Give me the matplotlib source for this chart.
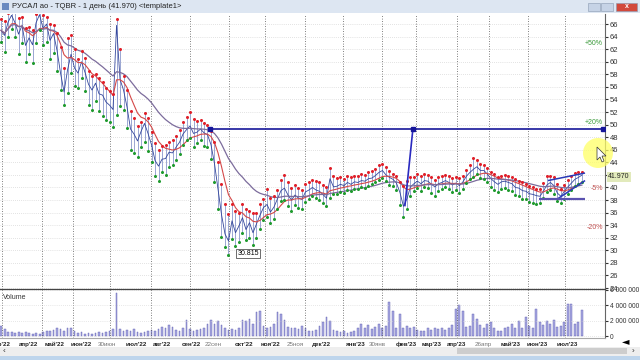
import numpy as np
import pandas as pd
import matplotlib
matplotlib.use("Agg")
import matplotlib.pyplot as plt
import matplotlib.transforms as mtransforms
from matplotlib.patches import Rectangle, Ellipse, Polygon
from matplotlib.ticker import FuncFormatter

plt.rcParams['font.family'] = ['Liberation Sans', 'DejaVu Sans']

# --- data (one bar = ~2 trading days, mar'22 .. jul'23) ---
close = [65.0, 64.2, 66.3, 67.4, 66.2, 64.4, 65.8, 62.6, 63.8, 62.7,
         66.2, 67.5, 65.3, 66.0, 63.4, 64.5, 61.8, 58.2, 55.2, 58.7,
         61.2, 59.0, 58.2, 60.0, 58.3, 56.4, 55.5, 56.6, 54.9, 54.7,
         53.6, 53.1, 52.4, 65.8, 57.2, 55.5, 52.8, 49.3, 48.5, 47.4,
         48.9, 50.2, 48.6, 46.8, 44.3, 43.4, 44.5, 44.6, 45.6, 45.5,
         46.4, 47.2, 48.5, 49.2, 49.8, 48.6, 48.8, 49.3, 48.7, 48.4,
         46.8, 43.8, 39.8, 35.7, 32.6, 31.5, 34.7, 32.8, 33.9, 35.2,
         33.3, 34.4, 32.8, 34.2, 35.6, 36.8, 37.3, 36.1, 36.9, 38.2,
         39.5, 39.9, 38.8, 38.0, 38.8, 38.3, 38.1, 39.3, 39.6, 40.0,
         39.6, 39.4, 38.9, 38.3, 41.4, 40.1, 40.2, 40.5, 40.3, 40.8,
         40.5, 40.9, 40.8, 41.1, 41.0, 41.4, 41.5, 41.9, 42.4, 42.7,
         42.0, 41.6, 41.3, 40.7, 39.2, 37.0, 38.2, 40.1, 40.6, 41.0,
         40.6, 41.1, 41.0, 40.5, 40.1, 40.6, 40.8, 41.1, 40.8, 40.4,
         40.7, 40.3, 40.9, 41.8, 42.4, 42.9, 43.3, 42.7, 42.7, 42.1,
         41.4, 40.9, 40.5, 40.9, 41.0, 40.8, 40.6, 40.0, 39.9, 39.5,
         39.4, 39.0, 38.9, 38.7, 38.6, 39.4, 40.4, 40.8, 40.3, 39.1,
         38.6, 39.4, 40.1, 40.7, 41.3, 41.6, 41.97]

high = [66.8, 66.5, 67.8, 68.5, 68.0, 66.9, 67.2, 65.4, 65.6, 65.0,
        67.6, 68.5, 67.4, 67.2, 66.0, 65.9, 64.5, 62.4, 59.0, 63.8,
        64.2, 62.0, 60.5, 61.7, 60.6, 58.6, 57.8, 58.0, 57.4, 56.8,
        55.9, 55.4, 54.8, 66.8, 62.0, 57.8, 55.5, 52.2, 51.0, 49.8,
        50.4, 51.8, 51.0, 48.9, 47.1, 46.0, 46.6, 46.8, 47.3, 47.6,
        48.2, 49.1, 50.4, 51.2, 52.0, 50.9, 50.5, 50.8, 50.3, 49.9,
        49.0, 47.2, 44.0, 40.6, 37.4, 35.8, 37.3, 36.2, 36.0, 37.4,
        36.6, 36.3, 35.9, 36.0, 37.4, 38.2, 39.7, 38.4, 38.6, 39.6,
        41.2, 42.0, 40.9, 39.9, 40.4, 39.9, 39.6, 40.5, 40.8, 41.2,
        41.0, 40.8, 40.4, 40.0, 43.1, 41.8, 41.5, 41.7, 41.4, 41.8,
        41.6, 41.9, 41.9, 42.1, 42.0, 42.4, 42.6, 42.9, 43.6, 43.7,
        43.2, 42.6, 42.2, 41.8, 40.8, 40.2, 41.0, 41.6, 41.7, 42.2,
        41.9, 42.1, 42.0, 41.6, 41.2, 41.6, 41.9, 42.0, 41.9, 41.5,
        41.7, 41.5, 41.9, 42.8, 43.5, 44.7, 44.4, 43.8, 43.6, 43.1,
        42.5, 42.1, 41.6, 41.9, 42.0, 41.9, 41.6, 41.3, 41.0, 40.8,
        40.5, 40.3, 40.0, 39.8, 39.7, 40.7, 41.8, 41.9, 41.6, 40.6,
        39.8, 40.4, 41.2, 41.9, 42.3, 42.4, 42.5]

low = [63.2, 61.5, 64.0, 65.2, 64.0, 61.2, 63.0, 60.0, 61.2, 59.8,
       63.0, 65.0, 62.6, 63.2, 60.5, 61.4, 58.5, 55.5, 53.2, 55.0,
       58.2, 56.1, 55.8, 57.4, 55.4, 53.2, 52.3, 53.7, 52.1, 51.4,
       50.7, 50.4, 49.6, 51.5, 53.0, 52.3, 49.4, 46.0, 45.5, 44.9,
       46.5, 47.3, 45.8, 44.0, 41.8, 41.1, 42.5, 42.0, 43.3, 43.6,
       44.4, 45.3, 46.7, 47.6, 47.9, 46.4, 47.1, 47.5, 46.6, 46.5,
       44.5, 40.8, 36.5, 32.2, 30.6, 29.3, 31.8, 30.7, 31.4, 32.7,
       31.6, 32.0, 30.9, 31.9, 33.4, 34.9, 35.3, 34.3, 35.0, 36.5,
       37.9, 38.0, 37.0, 36.3, 37.2, 36.8, 36.6, 37.7, 38.2, 38.6,
       38.4, 38.0, 37.5, 37.0, 38.4, 38.9, 39.0, 39.3, 39.1, 39.6,
       39.5, 39.8, 39.7, 40.0, 39.9, 40.3, 40.5, 40.8, 41.2, 41.5,
       41.0, 40.4, 40.2, 39.6, 37.2, 35.3, 36.5, 38.6, 39.4, 39.9,
       39.5, 40.0, 39.9, 39.2, 38.7, 39.4, 39.7, 40.0, 39.7, 39.3,
       39.6, 39.1, 39.8, 40.7, 41.3, 41.7, 42.1, 41.5, 41.4, 40.9,
       40.1, 39.6, 39.3, 39.7, 39.9, 39.6, 39.4, 38.8, 38.6, 38.2,
       38.1, 37.7, 37.6, 37.4, 37.6, 38.4, 39.3, 39.6, 39.0, 37.9,
       37.5, 38.2, 39.0, 39.6, 40.2, 40.5, 40.9]

volume_mln = [1.3, 0.9, 0.5, 0.5, 0.4, 0.5, 0.4, 0.5, 0.4, 0.3,
              0.4, 0.3, 0.5, 0.7, 0.6, 0.8, 1.0, 0.9, 0.6, 1.0,
              1.1, 0.7, 0.4, 0.5, 0.3, 0.4, 0.3, 0.4, 0.5, 0.4,
              0.5, 0.7, 0.9, 5.6, 0.9, 0.7, 0.8, 0.6, 0.9, 0.5,
              0.4, 0.5, 0.6, 0.8, 0.7, 0.9, 1.2, 1.0, 1.4, 1.2,
              0.8, 0.7, 1.1, 2.1, 0.9, 0.7, 0.8, 0.9, 1.0, 1.5,
              2.1, 1.6, 1.9, 1.4, 1.0, 0.8, 0.9, 0.8, 1.0, 2.1,
              2.0, 2.2, 1.5, 3.1, 3.2, 1.3, 1.1, 1.2, 1.6, 3.1,
              2.9, 2.1, 1.2, 1.0, 1.1, 0.9, 1.3, 1.0, 0.7, 0.6,
              0.8, 1.3, 1.8, 2.5, 2.0, 0.8, 0.6, 0.5, 0.7, 0.4,
              0.5, 0.6, 1.0, 1.5, 1.1, 1.4, 0.9, 1.2, 1.5, 1.0,
              1.3, 4.4, 3.2, 1.0, 2.8, 1.1, 1.3, 1.0, 1.2, 0.8,
              0.7, 0.6, 1.0, 0.8, 1.0, 0.9, 1.1, 0.8, 1.0, 1.4,
              3.5, 4.0, 3.3, 1.2, 1.3, 2.9, 2.2, 1.4, 1.1, 1.6,
              1.8, 1.0, 0.6, 0.7, 1.0, 1.2, 1.6, 1.0, 1.9, 1.0,
              2.5, 1.3, 1.1, 3.5, 1.8, 1.4, 2.0, 1.5, 2.1, 1.2,
              1.3, 1.8, 4.1, 4.1, 1.6, 1.8, 3.4]

# x axis labels (bar index where they sit) and grid positions
date_labels = ["мар'22", "апр'22", "май'22", "июн'22", "30июн", "июл'22", "авг'22",
               "сен'22", "22сен", "окт'22", "ноя'22", "25ноя", "дек'22", "янв'23",
               "30янв", "фев'23", "мар'23", "апр'23", "26апр", "май'23", "июн'23", "июл'23"]
date_label_bars = [0, 8, 15.4, 22.8, 30.3, 38.6, 46.0, 54.3, 60.6, 69.4, 77.1, 84,
                   91.7, 101.4, 107.6, 115.7, 123.1, 130.3, 137.7, 145.7, 153.1, 161.7]
grid_bars = [0.3, 11.7, 20.6, 31.1, 42.8, 54, 65.1, 75.4, 86.8, 97.7, 108.8,
             118.6, 130.3, 139.4, 150.6, 161.1]

# drawn objects on the chart: (bar0, price0, bar1, price1)
level_line = (59.7, 49.3, 172.0, 49.3)
steep_line = (115.4, 37.0, 117.7, 49.3)
channel_top = (156.3, 41.1, 166.9, 42.3)
channel_bot = (158.8, 38.1, 166.9, 41.1)
support_line = (153.7, 38.2, 166.9, 38.2)
pct_levels = [50, 20, -5, -20]
min_label = "30.815"
title = "РУСАЛ ао - TQBR - 1 день (41.970) <template1>"

# --- figure ---
W, H = 640, 360
fig = plt.figure(figsize=(6.4, 3.6), dpi=100)
fig.patch.set_facecolor('white')


def box(x0, y0, x1, y1):
    return [x0 / W, 1 - y1 / H, (x1 - x0) / W, (y1 - y0) / H]


ax = fig.add_axes(box(0, 14, 605, 289))
axv = fig.add_axes(box(0, 289, 605, 338), sharex=ax)

x = np.arange(len(close))
ax.set_xlim(-0.3, 172.6)
ax.set_ylim(23.85, 67.6)

last = close[-1]

ax.set_xticks(grid_bars)
ax.tick_params(axis='x', length=0, labelbottom=False)
ax.grid(axis='x', color='#555555', ls=(0, (1, 2)), lw=0.6)
ax.yaxis.tick_right()
ax.set_yticks(np.arange(24, 67, 2))
# the label under the last-price box stays hidden
ax.yaxis.set_major_formatter(FuncFormatter(
    lambda v, _: '' if abs(v - last) < 1 else f"{v:.0f}"))
ax.tick_params(axis='y', labelsize=5.5, length=2, pad=1.5, colors='#333333')
ax.grid(axis='y', color='#c8c8c8', ls=(0, (1, 2)), lw=0.5)
for s in ['left', 'bottom', 'top']:
    ax.spines[s].set_visible(False)
ax.spines['right'].set_color('#666666')

# bars + close
ax.vlines(x, low, high, color='#9aa6d2', lw=0.7, zorder=2)
ax.plot(x, close, color='#34479c', lw=0.6, zorder=3)
ma_fast = pd.Series(close).ewm(span=8).mean()
ma_slow = pd.Series(close).ewm(span=24).mean()
ax.plot(x, ma_fast, color='#d44848', lw=0.8, zorder=3)
ax.plot(x, ma_slow, color='#7c6c9c', lw=0.9, zorder=3)
ax.plot(x, high, 'o', ms=2.2, color='#e0202a', mec='none', zorder=4)
ax.plot(x, low, 'o', ms=2.2, color='#1f9a2e', mec='none', zorder=4)

# drawn lines
for ln, c, lw in [(level_line, '#16169a', 1.2), (steep_line, '#2a2ac0', 1.2),
                  (channel_top, '#2a3ab8', 1.1), (channel_bot, '#2a3ab8', 1.1),
                  (support_line, '#5a52b0', 1.6)]:
    ax.plot([ln[0], ln[2]], [ln[1], ln[3]], color=c, lw=lw, zorder=5, solid_capstyle='butt')
ax.plot([level_line[0], steep_line[2], level_line[2]], [level_line[1]] * 3, 's',
        ms=2.2, color='#16169a', zorder=6)

for p in pct_levels:
    ax.text(172.0, last * (1 + p / 100), f"{p:+d}%", ha='right', va='center', fontsize=5,
            color='#3a9a3a' if p > 0 else '#c05050', zorder=6)

imin = int(np.argmin(low))
ax.text(imin + 2.5, 29.5, min_label, fontsize=5, va='center', ha='left', zorder=6,
        bbox=dict(facecolor='white', edgecolor='#333333', lw=0.5, pad=0.8))

# volume panel
axv.bar(x, np.array(volume_mln) * 1e6, width=0.55, color='#a8a8e2', edgecolor='#6060b0', lw=0.3)
axv.set_ylim(-0.25e6, 6.1e6)
axv.yaxis.tick_right()
axv.set_yticks([0, 2e6, 4e6, 6e6])
axv.yaxis.set_major_formatter(FuncFormatter(lambda v, _: f"{int(v):,}".replace(',', ' ')))
axv.tick_params(axis='y', labelsize=4.8, length=2, pad=1.5, colors='#333333')
axv.tick_params(axis='x', length=0, labelbottom=False)
axv.grid(axis='x', color='#555555', ls=(0, (1, 2)), lw=0.6)
axv.grid(axis='y', color='#d0d0d0', ls=(0, (1, 2)), lw=0.5)
axv.spines['left'].set_visible(False)
axv.spines['top'].set_color('#444444')
axv.spines['top'].set_linewidth(0.9)
axv.spines['right'].set_color('#666666')
axv.spines['bottom'].set_color('#aaaaaa')
axv.text(0.005, 0.9, "Volume", transform=axv.transAxes, fontsize=5, va='top', color='#333333')

trans = mtransforms.blended_transform_factory(axv.transData, axv.transAxes)
for b, lab in zip(date_label_bars, date_labels):
    is_day = lab[0].isdigit()
    axv.text(b, -0.08, lab, transform=trans, ha='center', va='top', fontsize=4.5,
             fontweight='normal' if is_day else 'bold',
             color='#777777' if is_day else '#222222', clip_on=False)

# window chrome
fig.add_artist(Rectangle((0, 1 - 13 / H), 1, 13 / H, transform=fig.transFigure,
                         facecolor='#dde6f2', edgecolor='none'))
fig.add_artist(Rectangle((2 / W, 1 - 10 / H), 7 / W, 7 / H, transform=fig.transFigure,
                         facecolor='#6a8ac0', edgecolor='none'))
fig.text(12 / W, 1 - 6.5 / H, title, fontsize=5.5, va='center', color='#222222')
for x0, x1, fc in [(588, 600, '#c6d3e6'), (601, 613, '#c6d3e6'), (616, 637, '#d2493c')]:
    fig.add_artist(Rectangle((x0 / W, 1 - 11 / H), (x1 - x0) / W, 8 / H, transform=fig.transFigure,
                             facecolor=fc, edgecolor='#8898b0', lw=0.4))
fig.text(626.5 / W, 1 - 7 / H, "x", fontsize=5, color='white', ha='center', va='center',
         fontweight='bold')

fig.add_artist(Rectangle((0, 4 / H), 1, 9 / H, transform=fig.transFigure,
                         facecolor='#eeeeee', edgecolor='none'))
fig.add_artist(Rectangle((457 / W, 6 / H), 170 / W, 6 / H, transform=fig.transFigure,
                         facecolor='#cdcdcd', edgecolor='none'))
fig.add_artist(Rectangle((0, 0), 1, 4 / H, transform=fig.transFigure,
                         facecolor='#bed5ec', edgecolor='none'))
fig.text(3 / W, 9 / H, "‹", fontsize=6, va='center', color='#333333')
fig.text(632 / W, 9 / H, "›", fontsize=6, va='center', color='#333333')
fig.text(626 / W, 1 - 341 / H, "◄", fontsize=7, ha='center', va='center', color='black',
         family='DejaVu Sans')

# last price box
fig.text(608 / W, 1 - 177 / H, f"{last:.3f}", fontsize=5, va='center', color='#222222', zorder=10,
         bbox=dict(facecolor='#e2eabc', edgecolor='none', pad=0.8))

# cursor highlight
fig.add_artist(Ellipse((598 / W, 1 - 153 / H), 30 / W, 30 / H, transform=fig.transFigure,
                       facecolor='#ffff66', edgecolor='none', alpha=0.75, zorder=8))
cur = np.array([(597, 147), (597, 160), (600, 157), (602, 162), (604, 161), (602, 156), (606, 156)])
fig.add_artist(Polygon(np.c_[cur[:, 0] / W, 1 - cur[:, 1] / H], closed=True, transform=fig.transFigure,
                       facecolor='white', edgecolor='#333333', lw=0.5, zorder=9))

fig.savefig("out.png", dpi=100)
